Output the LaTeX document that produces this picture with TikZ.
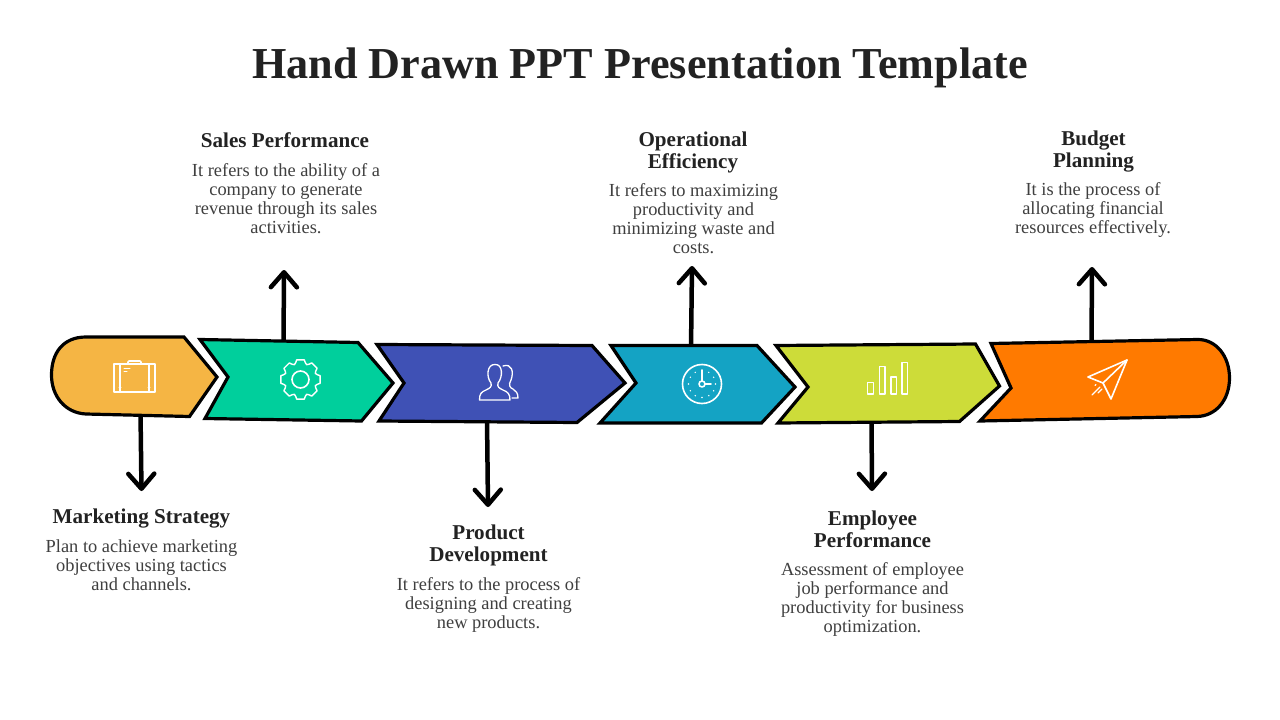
\documentclass[tikz,border=0pt]{standalone}
\usepackage{fontspec}
\setmainfont{Liberation Serif}
\usetikzlibrary{arrows.meta}
\definecolor{ink}{HTML}{222222}
\definecolor{bodyink}{HTML}{3F3F3F}
\definecolor{cyellow}{HTML}{F5B544}
\definecolor{cgreen}{HTML}{00CF9C}
\definecolor{cblue}{HTML}{3F51B5}
\definecolor{cteal}{HTML}{14A3C4}
\definecolor{clime}{HTML}{CDDC39}
\definecolor{corange}{HTML}{FF7A00}
\tikzset{
  chev/.style={draw=black,line width=3.2pt,miter limit=10,line join=miter},
  conn/.style={draw=black,line width=4.5pt,-{Straight Barb[length=15pt,width=26pt,line width=4.5pt,round]}},
  icon/.style={draw=white,line width=1.6pt,line join=round,line cap=round},
  titletext/.style={font=\fontsize{44.2}{48}\bfseries\selectfont,text=ink,anchor=center,inner sep=0pt},
  headtext/.style={font=\fontsize{21.1}{22}\bfseries\selectfont,text=ink,align=center,anchor=center,inner sep=0pt},
  bodytext/.style={font=\fontsize{18.4}{19}\selectfont,text=bodyink,align=center,anchor=center,inner sep=0pt},
}
\begin{document}
\begin{tikzpicture}[x=1pt,y=-1pt]
\useasboundingbox[fill=white] (0,0) rectangle (1280,720);
\node[titletext] (title) at (640,68) {Hand Drawn PPT Presentation Template};

% anchor points of the connectors
\coordinate (a1s) at (140.5,412); \coordinate (a1e) at (141.5,491);
\coordinate (a2s) at (283.5,345); \coordinate (a2e) at (284,270);
\coordinate (a3s) at (487,418);   \coordinate (a3e) at (488,507);
\coordinate (a4s) at (691,349);   \coordinate (a4e) at (692,266);
\coordinate (a5s) at (871.5,418); \coordinate (a5e) at (872,491);
\coordinate (a6s) at (1091.5,345);\coordinate (a6e) at (1092,267);
\foreach \i in {1,...,6} {\draw[conn] (a\i s) -- (a\i e);}

% chevrons
\draw[chev,fill=cyellow] (184,337) -- (217,377) -- (189.5,416.5) -- (86,414)
  .. controls (65,413) and (51.5,396) .. (51.5,375)
  .. controls (51.5,353) and (63,337) .. (86,337) -- cycle;
\draw[chev,fill=cgreen] (200,339.5) -- (358,342.5) -- (393,383) -- (361.5,421) -- (205,418.5) -- (228,377) -- cycle;
\draw[chev,fill=cblue] (377,344.5) -- (592,345.5) -- (625,383) -- (577,422.5) -- (379,421) -- (404,383) -- cycle;
\draw[chev,fill=cteal] (611,345.5) -- (757,345.5) -- (795,387) -- (761.5,423) -- (600,423) -- (636,383) -- cycle;
\draw[chev,fill=clime] (776,345.5) -- (975.5,344) -- (999.5,386) -- (959.5,421.5) -- (778,423) -- (808,387) -- cycle;
\draw[chev,fill=corange] (991,343.5) -- (1198,339.5) .. controls (1216,339.5) and (1229.5,356) .. (1229.5,378)
  .. controls (1229.5,400) and (1216,416) .. (1197,416.5) -- (980,421) -- (1011,388) -- cycle;

% briefcase
\draw[icon] (114,364) rectangle (155,392);
\draw[icon] (120,364) -- (120,392) (149,364) -- (149,392);
\draw[icon] (128,364) -- (128,362) .. controls (128,361) .. (129,361) -- (140,361) .. controls (141,361) .. (141,362) -- (141,364);
\draw[icon,line width=1pt] (124,368) -- (130,368) (124,371) -- (127,371);
\draw[icon,line width=1pt] (119,387) -- (121,387) (148,387) -- (150,387);

% gear
\begin{scope}[shift={(300.5,379.5)}]
\draw[icon] (0,0) circle (8.5);
\draw[icon,line width=1.4pt] (-11:20)
  \foreach \a in {0,45,...,315} {
    -- (\a-11:20) -- (\a+11:20) .. controls (\a+16:19) and (\a+15:16) .. (\a+22.5:16) .. controls (\a+30:16) and (\a+29:19) .. (\a+34:20)
  } -- cycle;
\end{scope}

% people
\draw[icon,line width=1.3pt] (479.5,400) -- (510,400) .. controls (510,394) and (508,392) .. (503,390)
  .. controls (499,388) and (497,387) .. (498,383)
  .. controls (503,377) and (503,364) .. (495,364.5)
  .. controls (487,364) and (486,377) .. (491,383)
  .. controls (492,387) and (490,388) .. (486,390)
  .. controls (481,392) and (479.5,394) .. (479.5,400) -- cycle;
\draw[icon,line width=1.3pt] (503,366) .. controls (512,363) and (514,372) .. (511,380)
  .. controls (508,385) and (510,388) .. (513,389)
  .. controls (516,391) and (518,393) .. (518,398) -- (512,398);

% clock
\begin{scope}[shift={(702,384)}]
\draw[icon] (0,0) circle (19.5);
\draw[icon] (0,0) circle (3);
\draw[icon] (0,-3) -- (0,-14) (3,0) -- (9,0);
\foreach \a in {0,30,...,330} {\fill[white] (\a:13.5) circle (0.8);}
\end{scope}

% bars
\draw[icon,line cap=butt] (867.5,382.5) rectangle (873.5,394);
\draw[icon,line cap=butt] (879.5,366.5) rectangle (885,394);
\draw[icon,line cap=butt] (891,377) rectangle (896.5,394);
\draw[icon,line cap=butt] (902,362.5) rectangle (907.5,394);

% paper plane
\draw[icon] (1127,360) -- (1088,377) -- (1103,383) -- (1111,399) -- cycle;
\draw[icon] (1127,360) -- (1103,383);
\draw[icon,line width=1.2pt] (1092,395) -- (1100,387) (1098,393) -- (1102,389) (1095,385.5) -- (1096,384.5);

% texts
\node[headtext] (h1) at (141.5,519) {Marketing Strategy};
\node[bodytext] (b1) at (141.5,565) {Plan to achieve marketing\\objectives using tactics\\and channels.};
\node[headtext] (h2) at (285,140.5) {Sales Performance};
\node[bodytext] (b2) at (286,198.5) {It refers to the ability of a\\company to generate\\revenue through its sales\\activities.};
\node[headtext] (h3) at (488.5,545) {Product\\Development};
\node[bodytext] (b3) at (488.5,604.5) {It refers to the process of\\designing and creating\\new products.};
\node[headtext] (h4) at (693,152) {Operational\\Efficiency};
\node[bodytext] (b4) at (693.5,218.5) {It refers to maximizing\\productivity and\\minimizing waste and\\costs.};
\node[headtext] (h5) at (872.5,529) {Employee\\Performance};
\node[bodytext] (b5) at (872.5,599) {Assessment of employee\\job performance and\\productivity for business\\optimization.};
\node[headtext] (h6) at (1093.5,152) {Budget\\Planning};
\node[bodytext] (b6) at (1093,210.5) {It is the process of\\allocating financial\\resources effectively.};
\end{tikzpicture}
\end{document}
